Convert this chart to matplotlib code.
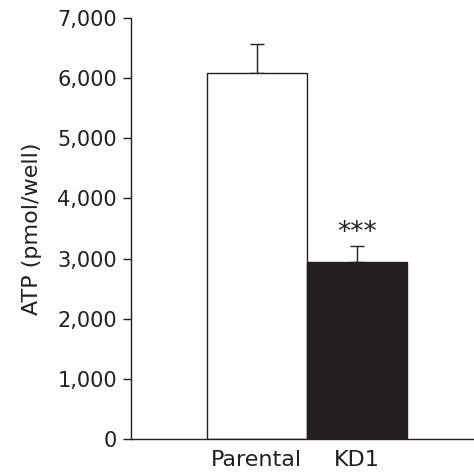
import matplotlib.pyplot as plt
import numpy as np

groups = ['Parental', 'KD1']
atp = [6080, 2940]
err = [480, 270]
colors = ['white', '#231f20']
stars = ['', '***']

ink = '#231f20'
plt.rcParams['font.family'] = 'DejaVu Sans'

fig = plt.figure(figsize=(4.74, 4.72), dpi=100)
ax = fig.add_axes([0.276, 0.07, 0.724, 0.892])

x = np.arange(len(groups))
ax.bar(x, atp, width=1.0, color=colors, edgecolor=ink, linewidth=1.0, zorder=2)
ax.errorbar(x, atp, yerr=[np.zeros(len(err)), err], fmt='none', ecolor=ink,
            elinewidth=1.0, capsize=5, capthick=1.0, zorder=1)
for xi, v, e, s in zip(x, atp, err, stars):
    if s:
        ax.text(xi, v + e - 10, s, ha='center', va='bottom', fontsize=19, color=ink)

ax.set_xlim(-1.26, 2.17)
ax.set_ylim(0, 7000)
ax.set_yticks(np.arange(0, 7001, 1000))
ax.set_yticklabels([f'{v:,}' for v in range(0, 7001, 1000)])
ax.set_xticks(x)
ax.set_xticklabels(groups)
ax.set_ylabel('ATP (pmol/well)', fontsize=16, color=ink, labelpad=11)

for side in ['top', 'right']:
    ax.spines[side].set_visible(False)
for side in ['left', 'bottom']:
    ax.spines[side].set_color(ink)
    ax.spines[side].set_linewidth(1.0)
ax.tick_params(axis='y', length=6, width=1.0, color=ink, labelsize=15, labelcolor=ink, pad=4)
ax.tick_params(axis='x', length=0, labelsize=16, labelcolor=ink, pad=8)

fig.savefig('out.png', dpi=100)
